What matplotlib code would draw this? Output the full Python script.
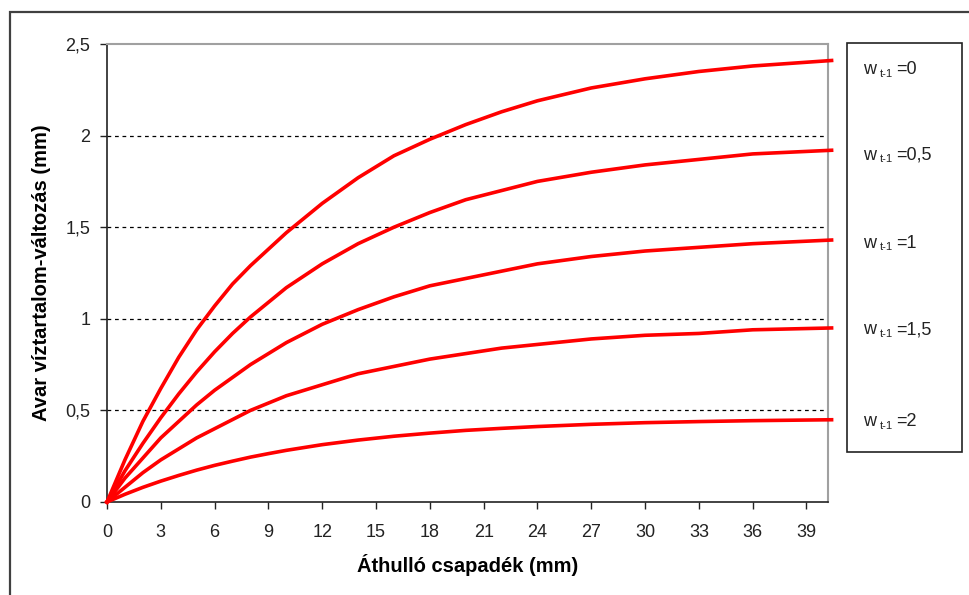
# avar viztartalom-valtozas vs athullo csapadek, recreated from an Excel chart

import matplotlib
matplotlib.use('Agg')
import matplotlib.pyplot as plt
from matplotlib.patches import Rectangle

plt.rcParams['font.family'] = ['Liberation Sans', 'DejaVu Sans']

# x values (mm) and curves
x = [0, 1, 2, 3, 4, 5, 6, 7, 8, 9, 10, 12, 14, 16, 18, 20, 22, 24, 27, 30, 33, 36, 40.4]
w0 = [0, 0.23, 0.44, 0.62, 0.79, 0.94, 1.07, 1.19, 1.29, 1.38, 1.47, 1.63, 1.77, 1.89, 1.98,
      2.06, 2.13, 2.19, 2.26, 2.31, 2.35, 2.38, 2.41]
w05 = [0, 0.17, 0.32, 0.46, 0.59, 0.71, 0.82, 0.92, 1.01, 1.09, 1.17, 1.30, 1.41, 1.50, 1.58,
       1.65, 1.70, 1.75, 1.80, 1.84, 1.87, 1.90, 1.92]
w1 = [0, 0.13, 0.24, 0.35, 0.44, 0.53, 0.61, 0.68, 0.75, 0.81, 0.87, 0.97, 1.05, 1.12, 1.18,
      1.22, 1.26, 1.30, 1.34, 1.37, 1.39, 1.41, 1.43]
w15 = [0, 0.08, 0.16, 0.23, 0.29, 0.35, 0.40, 0.45, 0.50, 0.54, 0.58, 0.64, 0.70, 0.74, 0.78,
       0.81, 0.84, 0.86, 0.89, 0.91, 0.92, 0.94, 0.95]
w2 = [0, 0.042, 0.080, 0.114, 0.145, 0.174, 0.200, 0.223, 0.245, 0.264, 0.282, 0.313, 0.338,
      0.359, 0.376, 0.391, 0.402, 0.412, 0.424, 0.433, 0.439, 0.444, 0.449]
curves = [w0, w05, w1, w15, w2]
labels = ['0', '0,5', '1', '1,5', '2']

xticks = list(range(0, 40, 3))
yticks = [0, 0.5, 1, 1.5, 2, 2.5]
ytick_labels = ['0', '0,5', '1', '1,5', '2', '2,5']

fig = plt.figure(figsize=(9.7, 5.95), dpi=100)
ax = fig.add_axes([107/970, 1 - 502/595, (828 - 107)/970, (502 - 44)/595])

# grid lines (dashed, black)
for yy in [0.5, 1, 1.5, 2]:
    ax.axhline(yy, color='black', lw=0.9, ls=(0, (3, 3)), zorder=1)

for c in curves:
    ax.plot(x, c, color='#ff0000', lw=2.6, clip_on=False, zorder=3)

ax.set_xlim(0, 40.2)
ax.set_ylim(0, 2.5)
ax.set_xticks(xticks)
ax.set_xticklabels([str(t) for t in xticks])
ax.set_yticks(yticks)
ax.set_yticklabels(ytick_labels)
ax.tick_params(axis='both', direction='out', length=5, width=1, labelsize=13, colors='#222222')
ax.tick_params(axis='x', pad=11)
ax.tick_params(axis='y', pad=7)

ax.spines['left'].set_color('#222222')
ax.spines['bottom'].set_color('#222222')
ax.spines['left'].set_linewidth(1.2)
ax.spines['bottom'].set_linewidth(1.2)
ax.spines['top'].set_color('#a0a0a0')
ax.spines['right'].set_color('#a0a0a0')
ax.spines['top'].set_linewidth(1.5)
ax.spines['right'].set_linewidth(1.5)

ax.set_xlabel('Áthulló csapadék (mm)', fontsize=14.5, fontweight='bold', labelpad=9)
ax.set_ylabel('Avar víztartalom-változás (mm)', fontsize=14.5, fontweight='bold', labelpad=10)

# outer chart area border
fig.patches.append(Rectangle((10/970, -0.05), 1.0, 1 - 12/595 + 0.05, transform=fig.transFigure,
                             fill=False, edgecolor='#404040', lw=1.6, zorder=0))

# legend box with the labels (no line samples, as in the original)
fig.patches.append(Rectangle((847/970, 1 - 452/595), (962 - 847)/970, (452 - 43)/595,
                             transform=fig.transFigure, facecolor='white',
                             edgecolor='#222222', lw=1.2))
label_y = [70, 155, 243, 330, 422]
for lab, yy in zip(labels, label_y):
    fy = 1 - yy/595
    fig.text(863/970, fy, 'w', fontsize=13, va='center', ha='left', color='#222222')
    fig.text(880/970, fy - 4/595, 't-1', fontsize=8, va='center', ha='left', color='#222222')
    fig.text(896/970, fy, '=' + lab, fontsize=13, va='center', ha='left', color='#222222')

plt.savefig('out.png', dpi=100)
plt.close()
